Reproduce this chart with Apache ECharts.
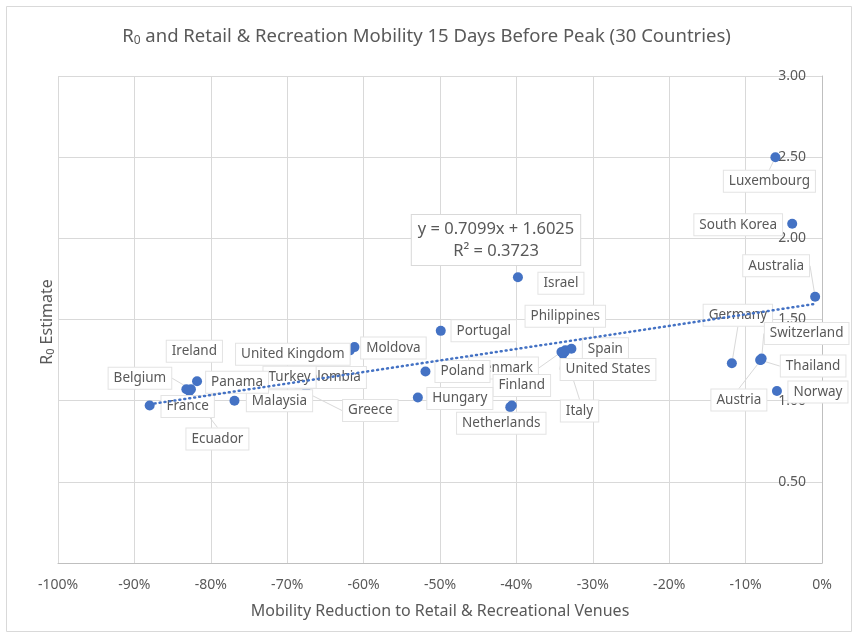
<!DOCTYPE html>
<html>
<head>
<meta charset="utf-8">
<script src="https://cdn.jsdelivr.net/npm/echarts@6/dist/echarts.min.js"></script>
<style>
html,body{margin:0;padding:0;background:#fff;}
#chart{width:853px;height:633px;}
</style>
</head>
<body>
<div id="chart"></div>
<script>
// ---- Data ----
const countries = ['Luxembourg','South Korea','Australia','Israel','Germany','Switzerland','Thailand','Austria','Norway',
  'Philippines','Spain','United States','Italy','Denmark','Finland','Netherlands','Portugal','Poland','Hungary',
  'Moldova','United Kingdom','Colombia','Turkey','Greece','Malaysia','Ireland','Belgium','Ecuador','Panama','France'];
const mobility = [-6.1,-3.9,-0.9,-39.8,-11.8,-7.9,-8.1,-8.0,-5.9,
  -33.6,-32.8,-33.9,-33.7,-34.1,-40.6,-40.8,-49.9,-51.9,-52.9,
  -61.2,-61.8,-66.0,-71.0,-67.5,-76.9,-83.2,-82.6,-82.8,-81.8,-88.0];
const r0 = [2.50,2.09,1.64,1.76,1.23,1.26,1.25,1.25,1.06,
  1.31,1.32,1.29,1.30,1.30,0.97,0.96,1.43,1.18,1.02,
  1.33,1.31,1.13,1.12,1.05,1.00,1.07,1.07,1.06,1.12,0.97];
const trendSlope = 0.7099;     // per unit fraction
const trendIntercept = 1.6025;
const rSquared = 0.3723;
const xTicks = {min:-100, max:0, step:10};
const yTicks = {min:0, max:3, step:0.5};

// ---- Label placement (style only) : offset of label centre from point ----
const labelOffsets = {
  'Luxembourg':[-6,24],'South Korea':[-54,1],'Australia':[-39,-31],'Israel':[43,6],'Germany':[6,-48],
  'Switzerland':[45,-25],'Thailand':[53,6],'Austria':[-22,40],'Norway':[41,1],'Philippines':[0,-34],
  'Spain':[34,0],'United States':[45,16],'Italy':[15,59],'Denmark':[-58,16],'Finland':[10,-20],
  'Netherlands':[-9,16],'Portugal':[43,0],'Poland':[37,0],'Hungary':[42,1],'Moldova':[39,1],
  'United Kingdom':[-57,4],'Colombia':[13,-2],'Turkey':[10,-4],'Greece':[64,18],'Malaysia':[45,0],
  'Panama':[40,1],'Ireland':[8,-38],'Belgium':[-51,-11],'Ecuador':[28,48],'France':[38,1]
};

const FONT = '"Noto Sans", "Open Sans", sans-serif';
const TXT = '#595959';
const BLUE = '#4472C4';

const points = countries.map((c,i)=>{
  const o = labelOffsets[c];
  const far = Math.hypot(o[0],o[1]) > 44 && !['South Korea','Malaysia','United Kingdom'].includes(c) || c==='Luxembourg';
  return {name:c, value:[mobility[i], r0[i]], labelLine:{show:far}};
});

const xs = mobility.slice();
const xMin = Math.min.apply(null, xs), xMax = Math.max.apply(null, xs);
const trend = [xMin, xMax].map(x => [x, trendSlope*(x/100) + trendIntercept]);

const chart = echarts.init(document.getElementById('chart'), null, {renderer:'canvas'});
chart.setOption({
  animation:false,
  backgroundColor:'#fff',
  title:{
    text:'{a|R}{s|0}{a| and Retail & Recreation Mobility 15 Days Before Peak (30 Countries)}',
    left:'center', top:21,
    textStyle:{fontWeight:'normal',rich:{
      a:{fontFamily:FONT,fontSize:18.5,fontWeight:'normal',color:TXT},
      s:{fontFamily:FONT,fontSize:12,fontWeight:'normal',color:TXT,padding:[9,0,0,0]}
    }}
  },
  grid:{left:58,right:31,top:76,bottom:70,containLabel:false},
  xAxis:{
    type:'value', min:xTicks.min, max:xTicks.max, interval:xTicks.step,
    name:'Mobility Reduction to Retail & Recreational Venues',
    nameLocation:'middle', nameGap:40,
    nameTextStyle:{fontFamily:FONT,fontSize:16,color:TXT},
    axisLine:{show:true,onZero:false,lineStyle:{color:'#bfbfbf',width:1}},
    axisTick:{show:false},
    axisLabel:{fontFamily:FONT,fontSize:14,color:TXT,margin:15,formatter:v=>v+'%'},
    splitLine:{show:true,lineStyle:{color:'#d9d9d9',width:1}}
  },
  yAxis:{
    type:'value', min:yTicks.min, max:yTicks.max, interval:yTicks.step, position:'right',
    axisLine:{show:true,onZero:false,lineStyle:{color:'#bfbfbf',width:1}},
    axisTick:{show:false},
    axisLabel:{inside:true,fontFamily:FONT,fontSize:14,color:TXT,margin:16,formatter:v=>v===0?'':v.toFixed(2)},
    splitLine:{show:true,lineStyle:{color:'#d9d9d9',width:1}}
  },
  series:[
    {
      type:'scatter', z:2,
      symbol:'circle', symbolSize:10,
      itemStyle:{color:BLUE,opacity:1},
      data:points,
      label:{
        show:true, position:'inside', formatter:p=>p.name,
        fontFamily:FONT, fontSize:13.5, color:TXT,
        backgroundColor:'#fff', borderColor:'#e3e3e3', borderWidth:1,
        padding:[4,5,3,5]
      },
      labelLine:{show:true,lineStyle:{color:'#d9d9d9',width:1}},
      labelLayout:function(p){
        const o = labelOffsets[countries[p.dataIndex]];
        return {dx:o[0], dy:o[1], hideOverlap:false, moveOverlap:null};
      }
    },
    {
      type:'line', z:5, data:trend, symbol:'none', silent:true,
      lineStyle:{color:BLUE,width:2.5,type:[1,4],cap:'round'}
    }
  ],
  graphic:[
    {type:'rect', left:4, top:4, shape:{width:845,height:625}, style:{fill:null, stroke:'#d9d9d9', lineWidth:1}, silent:true, z:-1},
    {type:'text', x:47, y:322, rotation:Math.PI/2, style:{
      text:'{a|R}{s|0}{a| Estimate}', align:'center', verticalAlign:'middle',
      rich:{a:{fontFamily:FONT,fontSize:16,fill:TXT}, s:{fontFamily:FONT,fontSize:11,fill:TXT,padding:[8,0,0,0]}}
    }},
    {type:'text', x:496, y:240, z:10, style:{
      text:'y = '+trendSlope.toFixed(4)+'x + '+trendIntercept.toFixed(4)+'\nR² = '+rSquared.toFixed(4),
      align:'center', verticalAlign:'middle', fontFamily:FONT, fontSize:16.5, fill:TXT, lineHeight:22,
      backgroundColor:'#fff', borderColor:'#d9d9d9', borderWidth:1, padding:[4,6,2,6]
    }}
  ]
});
</script>
</body>
</html>
